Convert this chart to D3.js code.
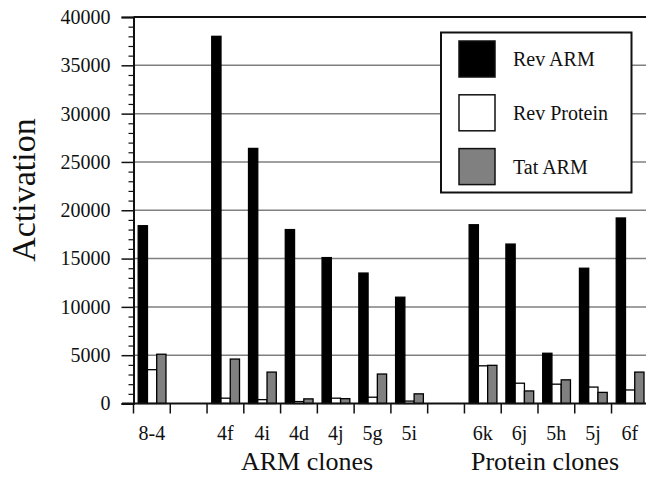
<!DOCTYPE html>
<html>
<head>
<meta charset="utf-8">
<script src="https://cdn.jsdelivr.net/npm/d3@7/dist/d3.min.js"></script>
<style>
html,body{margin:0;padding:0;background:#fff;}
svg{display:block;}
text{font-family:"Liberation Serif","Times New Roman",serif;fill:#111;}
</style>
</head>
<body>
<svg id="chart" width="646" height="477"></svg>
<script>
const categories = ["8-4", "", "4f", "4i", "4d", "4j", "5g", "5i", "", "6k", "6j", "5h", "5j", "6f"];
const seriesNames = ["Rev ARM", "Rev Protein", "Tat ARM"];
const revARM     = [18400, null, 38000, 26400, 18000, 15100, 13500, 11000, null, 18500, 16500, 5200, 14000, 19200];
const revProtein = [3500,  null, 550,   400,   200,   550,   650,   250,   null, 3900,  2100,  2000, 1700,  1400];
const tatARM     = [5100,  null, 4600,  3250,  480,   500,   3050,  1000,  null, 3950,  1300,  2450, 1150,  3250];
const yMajorTicks = [0, 5000, 10000, 15000, 20000, 25000, 30000, 35000, 40000];
const groupLabels = ["ARM clones", "Protein clones"];
const colors = ["#000000", "#ffffff", "#808080"];

(function () {
const FONT = "'Liberation Serif', 'Times New Roman', serif";
const svg = d3.select("#chart");
const mLeft = 133.5, mRight = 648.3, mTop = 17, mBottom = 403.5;

const x = d3.scaleBand().domain(d3.range(categories.length)).range([mLeft, mRight]).paddingInner(0).paddingOuter(0);
const xs = d3.scaleBand().domain(d3.range(3)).range([4.7, x.bandwidth() - 4.3]).padding(0);
const y = d3.scaleLinear().domain([0, 40000]).range([mBottom, mTop]);

// gridlines
svg.append("g").selectAll("line").data(yMajorTicks.filter(v => v > 0 && v < 40000)).join("line")
  .attr("x1", mLeft).attr("x2", 646).attr("y1", d => y(d)).attr("y2", d => y(d))
  .attr("stroke", "#808080").attr("stroke-width", 1.5);

// top frame
svg.append("line").attr("x1", mLeft).attr("x2", 646).attr("y1", y(40000)).attr("y2", y(40000))
  .attr("stroke", "#111").attr("stroke-width", 2);

// bars
const series = [revARM, revProtein, tatARM];
const barG = svg.append("g");
series.forEach((vals, si) => {
  barG.append("g").selectAll("rect").data(vals.map((v, i) => ({v, i})).filter(d => d.v != null)).join("rect")
    .attr("x", d => x(d.i) + xs(si))
    .attr("width", xs.bandwidth())
    .attr("y", d => y(d.v))
    .attr("height", d => mBottom - y(d.v))
    .attr("fill", colors[si])
    .attr("stroke", "#000").attr("stroke-width", 1.3);
});

// y axis major
const yAxis = svg.append("g").attr("transform", `translate(${mLeft},0)`)
  .call(d3.axisLeft(y).tickValues(yMajorTicks).tickSize(12).tickPadding(11).tickFormat(d3.format("d")));
yAxis.attr("font-family", null);
yAxis.select(".domain").attr("stroke", "#111").attr("stroke-width", 2);
yAxis.selectAll(".tick line").attr("stroke", "#111").attr("stroke-width", 1.5);
yAxis.selectAll("text").style("font-family", FONT).style("font-size", "20px").attr("fill", "#111");

// y axis minor
svg.append("g").attr("transform", `translate(${mLeft},0)`)
  .call(d3.axisLeft(y).tickValues(d3.range(1000, 40000, 1000).filter(v => v % 5000 !== 0)).tickSize(5).tickFormat(""))
  .call(g => g.select(".domain").remove())
  .selectAll(".tick line").attr("stroke", "#111").attr("stroke-width", 1.2);

// x axis baseline
svg.append("line").attr("x1", 122).attr("x2", 646).attr("y1", mBottom).attr("y2", mBottom)
  .attr("stroke", "#111").attr("stroke-width", 2);

// x boundary ticks
svg.append("g").selectAll("line").data(d3.range(categories.length + 1)).join("line")
  .attr("x1", i => i < categories.length ? x(i) : mRight)
  .attr("x2", i => i < categories.length ? x(i) : mRight)
  .attr("y1", mBottom).attr("y2", mBottom + 10)
  .attr("stroke", "#111").attr("stroke-width", 1.5);

// x labels
const xAxis = svg.append("g").attr("transform", `translate(0,${mBottom})`)
  .call(d3.axisBottom(x).tickSize(0).tickPadding(22).tickFormat(i => categories[i]));
xAxis.attr("font-family", null);
xAxis.select(".domain").remove();
xAxis.selectAll("text").style("font-family", FONT).style("font-size", "20px").attr("fill", "#111");

// group labels
svg.append("text").attr("x", 307).attr("y", 470).attr("text-anchor", "middle")
  .style("font-family", FONT).style("font-size", "26px").text(groupLabels[0]);
svg.append("text").attr("x", 545).attr("y", 470).attr("text-anchor", "middle")
  .style("font-family", FONT).style("font-size", "26px").text(groupLabels[1]);

// y axis title
svg.append("text").attr("transform", "translate(35,190) rotate(-90)").attr("text-anchor", "middle")
  .style("font-family", FONT).style("font-size", "34px").text("Activation");

// legend
const lg = svg.append("g");
lg.append("rect").attr("x", 441).attr("y", 32.5).attr("width", 190.5).attr("height", 160)
  .attr("fill", "#fff").attr("stroke", "#111").attr("stroke-width", 2);
seriesNames.forEach((name, i) => {
  const yy = 41 + i * 53.8;
  lg.append("rect").attr("x", 459).attr("y", yy).attr("width", 36).attr("height", 36)
    .attr("fill", colors[i]).attr("stroke", "#111").attr("stroke-width", 1.5);
  lg.append("text").attr("x", 513).attr("y", yy + 25)
    .style("font-family", FONT).style("font-size", "20px").text(name);
});
})();
</script>
</body>
</html>
